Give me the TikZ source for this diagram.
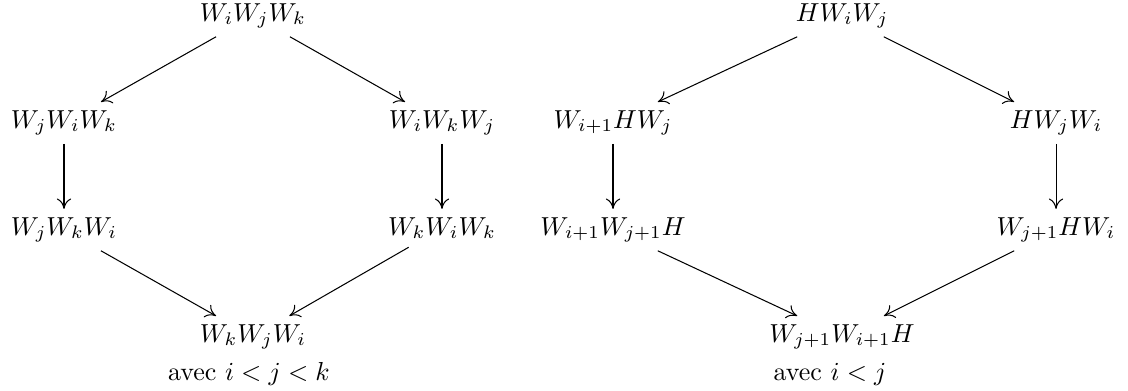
\documentclass[tikz,border=0pt]{standalone}
\usepackage{amsmath}
\usetikzlibrary{arrows.meta, positioning}
\tikzset{
  word/.style={anchor=base, inner sep=3pt},
  note/.style={anchor=base, inner sep=1pt},
  arr/.style={-{To[length=4pt,width=5.5pt]}, #1},
  arr/.default=black,
}
\begin{document}
\begin{tikzpicture}[x=0.01352cm, y=-0.01352cm]
  \useasboundingbox (0,0) rectangle (1128,390);
  % LEFT: i < j < k
  \node[word] (ijk) at (253,21)  {$W_iW_jW_k$};
  \node[word] (jik) at (64,128)  {$W_jW_iW_k$};
  \node[word] (ikj) at (442,128) {$W_iW_kW_j$};
  \node[word] (jki) at (64,235)  {$W_jW_kW_i$};
  \node[word] (kik) at (442,235) {$W_kW_iW_k$};
  \node[word] (kji) at (253,342) {$W_kW_jW_i$};
  \node[note] (lcond) at (249,380) {avec $i<j<k$};

  \draw[arr] (ijk) -- (jik);
  \draw[arr] (ijk) -- (ikj);
  \draw[arr] (jik) -- (jki);
  \draw[arr] (ikj) -- (kik);
  \draw[arr] (jki) -- (kji);
  \draw[arr] (kik) -- (kji);

  % RIGHT: i < j
  \node[word] (hij) at (842,21)   {$HW_iW_j$};
  \node[word] (ihj) at (613,128)  {$W_{i+1}HW_j$};
  \node[word] (hji) at (1056,128) {$HW_jW_i$};
  \node[word] (ijh) at (613,235)  {$W_{i+1}W_{j+1}H$};
  \node[word] (jhi) at (1056,235) {$W_{j+1}HW_i$};
  \node[word] (jih) at (842,342)  {$W_{j+1}W_{i+1}H$};
  \node[note] (rcond) at (830,380) {avec $i<j$};

  \draw[arr] (hij) -- (ihj);
  \draw[arr] (hij) -- (hji);
  \draw[arr] (ihj) -- (ijh);
  \draw[arr] (hji) -- (jhi);
  \draw[arr] (ijh) -- (jih);
  \draw[arr] (jhi) -- (jih);
\end{tikzpicture}
\end{document}
